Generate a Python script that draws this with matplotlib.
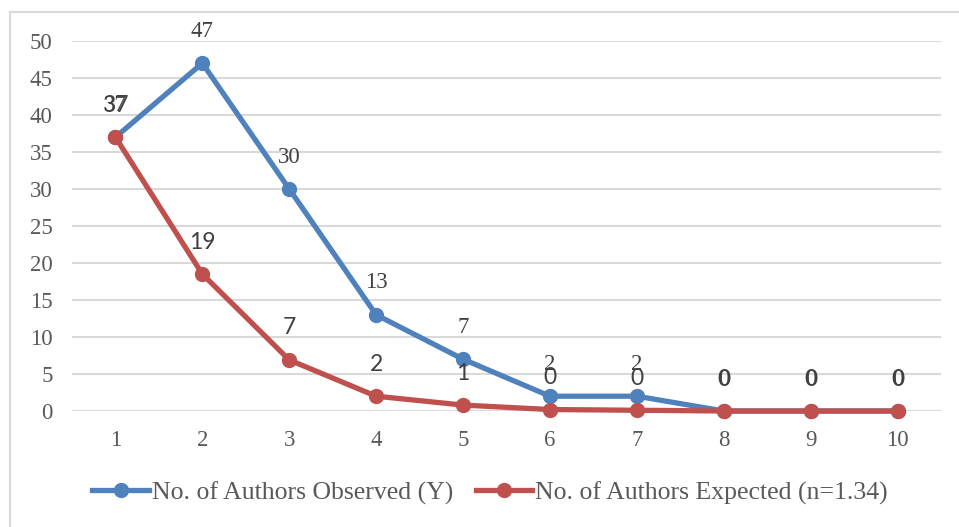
import matplotlib
matplotlib.use("Agg")
import matplotlib.pyplot as plt
from matplotlib.lines import Line2D

categories = [1, 2, 3, 4, 5, 6, 7, 8, 9, 10]
observed = [37, 47, 30, 13, 7, 2, 2, 0, 0, 0]
expected = [37, 18.5, 6.9, 2.0, 0.8, 0.2, 0.1, 0.0, 0.0, 0.0]
expected_labels = ["37", "19", "7", "2", "1", "0", "0", "0", "0", "0"]
observed_labels = [str(v) for v in observed]
yticks = [0, 5, 10, 15, 20, 25, 30, 35, 40, 45, 50]
series_names = ["No. of Authors Observed (Y)", "No. of Authors Expected (n=1.34)"]

W, H = 959, 527
fig = plt.figure(figsize=(W / 100, H / 100), dpi=100)
ax = fig.add_axes([72 / W, (H - 411) / H, (941 - 72) / W, 370 / H])

blue = "#4F81BD"
red = "#C0504D"
txt = "#595959"

ax.plot(categories, observed, color=blue, lw=3.8, marker="o", ms=10,
        clip_on=False, zorder=3, label=series_names[0])
ax.plot(categories, expected, color=red, lw=3.8, marker="o", ms=10,
        clip_on=False, zorder=4, label=series_names[1])

for x, y, s in zip(categories, observed, observed_labels):
    ax.annotate(s, (x, y), xytext=(0, 23), textcoords="offset points",
                ha="center", va="center", fontsize=16.5,
                family="Liberation Serif", color="#404040", zorder=5)
for x, y, s in zip(categories, expected, expected_labels):
    ax.annotate(s, (x, y), xytext=(0, 23), textcoords="offset points",
                ha="center", va="center", fontsize=16.5,
                family="Lato", color="#404040", zorder=6)

ax.set_xlim(0.5, 10.5)
ax.set_ylim(0, 50)
ax.set_yticks(yticks)
ax.set_xticks(categories)
ax.grid(axis="y", color="#D9D9D9", lw=1.5)
ax.set_axisbelow(True)
for sp in ax.spines.values():
    sp.set_visible(False)
ax.tick_params(length=0, labelsize=16.5, labelcolor=txt)
ax.tick_params(axis="x", pad=14)
ax.tick_params(axis="y", pad=14)
for lab in ax.get_xticklabels() + ax.get_yticklabels():
    lab.set_family("Liberation Serif")

leg = fig.legend(loc="center", bbox_to_anchor=(490 / W, 1 - 493 / H), ncol=2,
                 frameon=False, handlelength=2.2, handletextpad=0.1,
                 columnspacing=0.9,
                 prop={"family": "Liberation Serif", "size": 18.5})
for t in leg.get_texts():
    t.set_color(txt)

# chart border (top and left visible)
fig.add_artist(Line2D([10 / W, 1], [1 - 12 / H, 1 - 12 / H], color="#D9D9D9", lw=1.5,
                      transform=fig.transFigure))
fig.add_artist(Line2D([10 / W, 10 / W], [0, 1 - 12 / H], color="#D9D9D9", lw=1.5,
                      transform=fig.transFigure))

fig.savefig("out.png", dpi=100)
